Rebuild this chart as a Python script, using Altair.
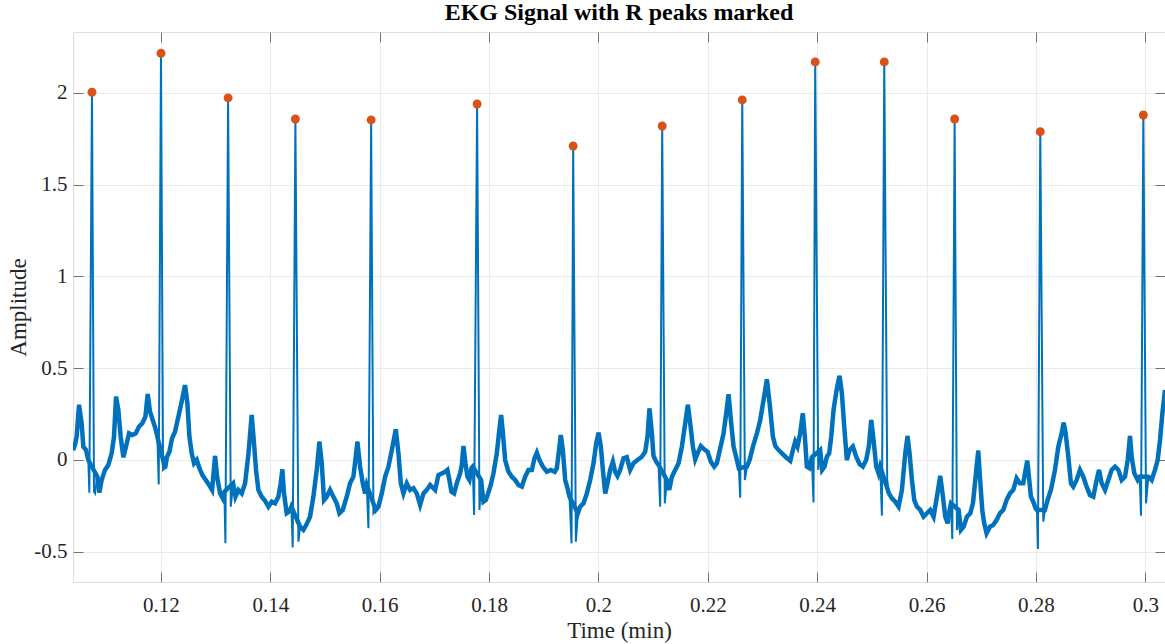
import numpy as np
import pandas as pd
import altair as alt

# ECG trace (time in minutes, amplitude), R-peak tops listed separately below
wave_t = [
    0.10391, 0.10427, 0.10458, 0.10501, 0.10549, 0.10580, 0.10629, 0.10671, 0.10690,
    0.10775, 0.10793, 0.10836, 0.10873, 0.10915, 0.10976, 0.11037, 0.11098, 0.11141,
    0.11178, 0.11220, 0.11263, 0.11312, 0.11361, 0.11416, 0.11477, 0.11538, 0.11599,
    0.11660, 0.11715, 0.11757, 0.11800, 0.11849, 0.11898, 0.11934, 0.11959,
    0.12038, 0.12074, 0.12111, 0.12154, 0.12202, 0.12257, 0.12318, 0.12379, 0.12440,
    0.12483, 0.12520, 0.12562, 0.12605, 0.12654, 0.12703, 0.12758, 0.12819, 0.12880,
    0.12935, 0.12989, 0.13026, 0.13081, 0.13130, 0.13160, 0.13178,
    0.13276, 0.13319, 0.13362, 0.13416, 0.13477, 0.13538, 0.13600, 0.13659, 0.13701,
    0.13738, 0.13781, 0.13842, 0.13903, 0.13964, 0.14025, 0.14086, 0.14147, 0.14189,
    0.14220, 0.14250, 0.14299, 0.14348, 0.14385, 0.14409,
    0.14513, 0.14543, 0.14604, 0.14665, 0.14726, 0.14787, 0.14848, 0.14897, 0.14940,
    0.14982, 0.15031, 0.15092, 0.15153, 0.15214, 0.15263, 0.15324, 0.15397, 0.15458,
    0.15519, 0.15562, 0.15592, 0.15641, 0.15690, 0.15733, 0.15763, 0.15794,
    0.15885, 0.15928, 0.15977, 0.16038, 0.16099, 0.16160, 0.16221, 0.16294, 0.16343,
    0.16386, 0.16434, 0.16495, 0.16556, 0.16617, 0.16678, 0.16739, 0.16800, 0.16861,
    0.16922, 0.17014, 0.17074, 0.17135, 0.17196, 0.17238, 0.17269, 0.17311, 0.17360,
    0.17409, 0.17470, 0.17501, 0.17531, 0.17568, 0.17604, 0.17641, 0.17678, 0.17702,
    0.17726,
    0.17824, 0.17854, 0.17897, 0.17940, 0.17982, 0.18031, 0.18080, 0.18141, 0.18184,
    0.18220, 0.18251, 0.18294, 0.18355, 0.18416, 0.18477, 0.18538, 0.18599, 0.18660,
    0.18721, 0.18782, 0.18830, 0.18873, 0.18922, 0.18983, 0.19056, 0.19129, 0.19202,
    0.19239, 0.19276, 0.19312, 0.19349, 0.19392, 0.19434, 0.19471, 0.19508,
    0.19587, 0.19624, 0.19666, 0.19727, 0.19788, 0.19849, 0.19910, 0.19959, 0.20002,
    0.20044, 0.20081, 0.20124, 0.20166, 0.20215, 0.20264, 0.20305, 0.20348, 0.20397,
    0.20458, 0.20519, 0.20580, 0.20641, 0.20714, 0.20794, 0.20855, 0.20897, 0.20934,
    0.20977, 0.21007, 0.21056, 0.21099, 0.21129,
    0.21214, 0.21251, 0.21294, 0.21343, 0.21404, 0.21465, 0.21526, 0.21587, 0.21635,
    0.21678, 0.21727, 0.21770, 0.21812, 0.21873, 0.21934, 0.21995, 0.22056, 0.22117,
    0.22166, 0.22227, 0.22288, 0.22337, 0.22380, 0.22422, 0.22471, 0.22532, 0.22568,
    0.22593,
    0.22678, 0.22715, 0.22764, 0.22825, 0.22898, 0.22959, 0.23020, 0.23081, 0.23130,
    0.23191, 0.23234, 0.23295, 0.23356, 0.23429, 0.23508, 0.23569, 0.23598, 0.23640,
    0.23689, 0.23738, 0.23775, 0.23811, 0.23860, 0.23903, 0.23933,
    0.24019, 0.24055, 0.24092, 0.24135, 0.24177, 0.24220, 0.24257, 0.24299, 0.24360,
    0.24409, 0.24452, 0.24495, 0.24543, 0.24592, 0.24653, 0.24714, 0.24775, 0.24836,
    0.24897, 0.24946, 0.24989, 0.25031, 0.25080, 0.25123, 0.25153, 0.25184,
    0.25281, 0.25312, 0.25367, 0.25428, 0.25489, 0.25550, 0.25611, 0.25653, 0.25690,
    0.25733, 0.25775, 0.25824, 0.25885, 0.25946, 0.26007, 0.26068, 0.26129, 0.26190,
    0.26251, 0.26300, 0.26343, 0.26386, 0.26422, 0.26447, 0.26471,
    0.26556, 0.26587, 0.26629, 0.26678, 0.26739, 0.26800, 0.26849, 0.26892, 0.26915,
    0.26946, 0.26976, 0.27019, 0.27055, 0.27098, 0.27159, 0.27220, 0.27281, 0.27342,
    0.27403, 0.27464, 0.27525, 0.27586, 0.27647, 0.27708, 0.27769, 0.27812, 0.27842,
    0.27873, 0.27909, 0.27952, 0.27995, 0.28019, 0.28037,
    0.28135, 0.28165, 0.28214, 0.28275, 0.28349, 0.28410, 0.28471, 0.28507, 0.28544,
    0.28593, 0.28641, 0.28684, 0.28745, 0.28806, 0.28867, 0.28928, 0.28989, 0.29050,
    0.29111, 0.29154, 0.29203, 0.29264, 0.29325, 0.29386, 0.29447, 0.29508, 0.29569,
    0.29630, 0.29679, 0.29721, 0.29751, 0.29800, 0.29861, 0.29898, 0.29922,
    0.30014, 0.30056, 0.30117, 0.30178, 0.30227, 0.30270, 0.30313, 0.30361,
]

wave_amp = [
    0.054, 0.082, 0.127, 0.300, 0.200, 0.073, 0.054, 0.000, -0.178,
    -0.172, -0.182, -0.091, -0.178, -0.109, -0.054, -0.027, 0.036, 0.127,
    0.345, 0.272, 0.127, 0.015, 0.073, 0.145, 0.136, 0.145, 0.182,
    0.200, 0.236, 0.359, 0.263, 0.218, 0.172, 0.127, -0.133,
    -0.054, -0.045, 0.018, 0.045, 0.118, 0.154, 0.236, 0.318, 0.408,
    0.309, 0.127, 0.036, -0.018, 0.000, -0.045, -0.082, -0.109, -0.136,
    -0.163, 0.022, -0.091, -0.182, -0.209, -0.172, -0.454,
    -0.254, -0.127, -0.200, -0.163, -0.182, -0.127, 0.036, 0.245, 0.091,
    -0.054, -0.163, -0.200, -0.222, -0.254, -0.227, -0.236, -0.200, -0.127,
    -0.051, -0.182, -0.290, -0.281, -0.254, -0.477,
    -0.445, -0.363, -0.381, -0.349, -0.309, -0.200, -0.054, 0.100, -0.018,
    -0.218, -0.200, -0.163, -0.200, -0.236, -0.290, -0.272, -0.200, -0.127,
    -0.091, 0.018, 0.100, -0.036, -0.127, -0.182, -0.136, -0.372,
    -0.290, -0.272, -0.254, -0.182, -0.091, -0.036, 0.054, 0.167, 0.036,
    -0.127, -0.182, -0.127, -0.163, -0.154, -0.182, -0.245, -0.182, -0.163,
    -0.136, -0.163, -0.082, -0.073, -0.064, -0.054, -0.100, -0.172, -0.182,
    -0.127, -0.073, -0.027, 0.076, -0.018, -0.091, -0.109, -0.045, -0.036,
    -0.300,
    -0.272, -0.109, -0.227, -0.218, -0.182, -0.136, -0.073, 0.036, 0.154,
    0.245, 0.154, 0.000, -0.064, -0.091, -0.109, -0.136, -0.145, -0.091,
    -0.054, -0.054, 0.009, 0.040, 0.000, -0.036, -0.064, -0.054, -0.064,
    -0.045, 0.045, 0.136, 0.054, -0.109, -0.154, -0.200, -0.454,
    -0.445, -0.290, -0.254, -0.236, -0.182, -0.109, -0.018, 0.091, 0.149,
    0.073, -0.054, -0.182, -0.127, -0.054, -0.009, -0.064, -0.087, -0.054,
    0.009, 0.015, -0.054, -0.018, 0.000, 0.018, 0.045, 0.127, 0.281,
    0.145, 0.022, -0.009, -0.027, -0.254,
    -0.236, -0.109, -0.163, -0.091, -0.054, -0.018, 0.073, 0.200, 0.300,
    0.200, 0.073, 0.004, 0.036, 0.076, 0.058, 0.045, -0.009, -0.036,
    -0.018, 0.064, 0.145, 0.254, 0.358, 0.218, 0.073, 0.000, -0.045,
    -0.205,
    -0.109, -0.036, 0.000, 0.073, 0.145, 0.218, 0.327, 0.439, 0.309,
    0.127, 0.076, 0.054, 0.036, 0.015, -0.004, 0.069, 0.100, 0.073,
    0.145, 0.254, 0.127, -0.036, -0.045, 0.015, -0.231,
    -0.054, 0.054, -0.054, -0.036, 0.018, 0.036, 0.127, 0.272, 0.390,
    0.458, 0.363, 0.182, 0.000, 0.054, 0.073, 0.018, -0.022, -0.036,
    0.000, 0.076, 0.218, 0.109, -0.036, -0.073, -0.036, -0.303,
    -0.109, -0.182, -0.209, -0.227, -0.254, -0.163, 0.036, 0.131, 0.036,
    -0.109, -0.218, -0.254, -0.272, -0.309, -0.290, -0.272, -0.309, -0.200,
    -0.087, -0.200, -0.309, -0.345, -0.272, -0.236, -0.430,
    -0.381, -0.272, -0.381, -0.363, -0.309, -0.290, -0.236, -0.109, -0.036,
    0.051, -0.091, -0.272, -0.345, -0.399, -0.363, -0.354, -0.327, -0.290,
    -0.272, -0.218, -0.182, -0.163, -0.100, -0.127, -0.127, -0.054, -0.004,
    -0.091, -0.200, -0.227, -0.263, -0.272, -0.485,
    -0.336, -0.272, -0.218, -0.163, -0.054, 0.073, 0.145, 0.203, 0.145,
    0.018, -0.127, -0.145, -0.109, -0.054, -0.091, -0.145, -0.191, -0.200,
    -0.109, -0.054, -0.127, -0.163, -0.109, -0.054, -0.036, -0.054, -0.109,
    -0.091, 0.000, 0.131, 0.018, -0.073, -0.109, -0.091, -0.303,
    -0.236, -0.091, -0.109, -0.054, 0.000, 0.109, 0.254, 0.381,
]

# Detected R peaks
peak_t = [0.10738, 0.12000, 0.13227, 0.14458, 0.15843, 0.17781, 0.19538,
          0.21166, 0.22630, 0.23964, 0.25227, 0.26514, 0.28080, 0.29965]
peak_amp = [2.003, 2.215, 1.972, 1.857, 1.852, 1.939, 1.710,
            1.819, 1.961, 2.168, 2.168, 1.857, 1.788, 1.879]

x_ticks = [0.12, 0.14, 0.16, 0.18, 0.2, 0.22, 0.24, 0.26, 0.28, 0.3]
y_ticks = [-0.5, 0, 0.5, 1, 1.5, 2]
x_domain = [0.10391, 0.30361]
y_domain = [-0.6645, 2.331]

signal = pd.DataFrame({"t": wave_t + peak_t, "amp": wave_amp + peak_amp})
signal = signal.sort_values("t").reset_index(drop=True)
peaks = pd.DataFrame({"t": peak_t, "amp": peak_amp})

# baseline part of the trace (QRS spikes left out) drawn as a wider noisy band
gap = np.min(np.abs(signal["t"].to_numpy()[:, None] - np.array(peak_t)[None, :]), axis=1)
baseline = signal[gap >= 0.0006]

SERIF = "Liberation Serif"
BLUE = "#0072BD"
ORANGE = "#D95319"
FRAME = "#737373"
GRID = "#ebebeb"
TXT = "#262626"

xs = alt.Scale(domain=x_domain, nice=False, zero=False)
ys = alt.Scale(domain=y_domain, nice=False, zero=False)
label_expr = "'' + datum.value"

x_bottom = alt.Axis(
    orient="bottom", values=x_ticks, labelExpr=label_expr, title="Time (min)",
    grid=True, gridColor=GRID, gridWidth=1, domain=False,
    ticks=True, tickSize=10, tickColor=FRAME, offset=-10,
    labelPadding=12, labelFont=SERIF, labelFontSize=21, labelColor=TXT,
    titleFont=SERIF, titleFontSize=23, titleFontWeight="normal", titleColor=TXT,
    titlePadding=4,
)
y_left = alt.Axis(
    orient="left", values=y_ticks, labelExpr=label_expr, title="Amplitude",
    grid=True, gridColor=GRID, gridWidth=1, domain=False,
    ticks=True, tickSize=10, tickColor=FRAME, offset=-10,
    labelPadding=6, labelFont=SERIF, labelFontSize=21, labelColor=TXT,
    titleFont=SERIF, titleFontSize=23, titleFontWeight="normal", titleColor=TXT,
    titlePadding=3,
)
x_top = alt.Axis(
    orient="top", values=x_ticks, labels=False, title=None, grid=False,
    domain=False, ticks=True, tickSize=10, tickColor=FRAME, offset=-10,
)
y_right = alt.Axis(
    orient="right", values=y_ticks, labels=False, title=None, grid=False,
    domain=False, ticks=True, tickSize=10, tickColor=FRAME, offset=-10,
)

band = alt.Chart(baseline).mark_line(color=BLUE, strokeWidth=4.5, clip=True).encode(
    x=alt.X("t:Q", scale=xs, axis=None),
    y=alt.Y("amp:Q", scale=ys, axis=None),
)

trace = alt.Chart(signal).mark_line(color=BLUE, strokeWidth=2, clip=True).encode(
    x=alt.X("t:Q", scale=xs, axis=x_bottom),
    y=alt.Y("amp:Q", scale=ys, axis=y_left),
)

markers = alt.Chart(peaks).mark_circle(color=ORANGE, size=80, opacity=1).encode(
    x=alt.X("t:Q", scale=xs, axis=x_top),
    y=alt.Y("amp:Q", scale=ys, axis=y_right),
)

chart = (
    alt.layer(band, trace, markers)
    .resolve_axis(x="independent", y="independent")
    .properties(
        width=1092,
        height=550,
        padding={"left": 73, "top": 32, "right": 0, "bottom": 62},
        autosize=alt.AutoSizeParams(type="none"),
        title=alt.TitleParams(
            "EKG Signal with R peaks marked", font=SERIF, fontSize=24,
            fontWeight="bold", color="black", anchor="middle",
            baseline="alphabetic", offset=-12,
        ),
    )
    .configure_view(stroke=FRAME, strokeWidth=1)
    .configure(background="white")
)

chart.save("out.html", embed_options={"renderer": "svg", "actions": False})
